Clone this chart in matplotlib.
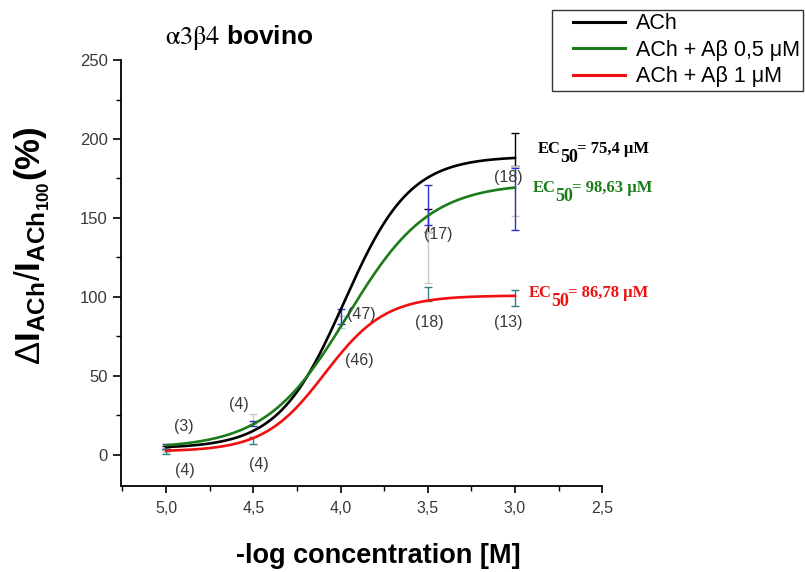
import numpy as np
import matplotlib
matplotlib.use("Agg")
import matplotlib.pyplot as plt
from matplotlib.ticker import MultipleLocator, FuncFormatter
from matplotlib.legend_handler import HandlerLine2D

plt.rcParams["mathtext.fontset"] = "custom"
plt.rcParams["mathtext.rm"] = "Liberation Sans"
plt.rcParams["mathtext.bf"] = "Liberation Sans:bold"
plt.rcParams["mathtext.it"] = "Liberation Sans:italic"

# ---- data ----
x_points = [5.0, 4.5, 4.0, 3.5, 3.0]          # -log [ACh] (M)

# Hill fits: bottom, top, centre (-log M), slope
series_names = ["ACh", "ACh + Aβ 0,5 μM", "ACh + Aβ 1 μM"]
series_colors = ["#000000", "#1c7c1c", "#f01010"]
fit_bottom = [4.0, 4.0, 2.0]
fit_top = [189.0, 172.0, 100.8]
fit_center = [3.98, 3.96, 4.09]
fit_slope = [2.3, 1.85, 2.5]

# error bars (mean, sem) for each group, NaN where none drawn
err_colors = ["#000000", "#c8c8c8", "#3030d0", "#2f8080"]
err_mean = [
    [4.6, np.nan, np.nan, 148.3, 193.5],
    [3.0, 22.5, 84.0, 125.0, 167.0],
    [5.0, 19.5, 87.7, 158.2, 161.9],
    [2.0, 9.0, np.nan, 101.7, 99.2],
]
err_sem = [
    [1.0, np.nan, np.nan, 7.3, 10.5],
    [1.2, 3.0, 4.0, 16.0, 16.0],
    [1.5, 1.5, 4.8, 12.9, 19.8],
    [1.5, 2.2, np.nan, 4.5, 4.8],
]

# number of cells per point
n_labels = ["(3)", "(4)", "(4)", "(4)", "(47)", "(46)", "(17)", "(18)", "(13)", "(18)"]
n_x = [4.90, 4.89, 4.58, 4.47, 3.88, 3.89, 3.44, 3.49, 3.04, 3.04]
n_y = [17.8, -10.0, 32.0, -6.3, 88.8, 59.6, 139.6, 83.7, 83.7, 175.8]

ec50_text = ["75,4", "98,63", "86,78"]
ec50_x = [2.869, 2.898, 2.921]
ec50_y = [190.8, 166.4, 99.8]

x_ticks = [5.0, 4.5, 4.0, 3.5, 3.0, 2.5]
y_ticks = [0, 50, 100, 150, 200, 250]

# ---- figure ----
fig = plt.figure(figsize=(8.05, 5.72), dpi=100)
ax = fig.add_axes([0.150, 0.150, 0.598, 0.745])

for c, m, s in zip(err_colors, err_mean, err_sem):
    ax.errorbar(x_points, m, yerr=s, fmt="none", ecolor=c, elinewidth=1.0,
                capsize=3.2, capthick=1.0, zorder=2)

xs = np.linspace(5.0, 3.0, 300)
handles = []
for name, col, b, t, c, n in zip(series_names, series_colors, fit_bottom,
                                  fit_top, fit_center, fit_slope):
    ys = b + (t - b) / (1 + 10 ** ((xs - c) * n))
    h, = ax.plot(xs, ys, color=col, lw=1.9, label=name, zorder=3)
    handles.append(h)

for t, x, y in zip(n_labels, n_x, n_y):
    ax.text(x, y, t, ha="center", va="center", fontsize=11.5, color="#3a3a3a",
            family="Liberation Sans", zorder=4)

# EC50 labels: "EC", a large lowered "50", then the value on the EC baseline
serif_bold = dict(family="Liberation Serif", fontweight="bold")
for t, x, y, col in zip(ec50_text, ec50_x, ec50_y, series_colors):
    t_ec = ax.text(x, y, "EC", ha="left", va="baseline", fontsize=12,
                   color=col, clip_on=False, **serif_bold)
    t_sub = ax.annotate("50", xy=(1, 0), xycoords=t_ec, xytext=(-0.6, -6.2),
                        textcoords="offset points", ha="left", va="bottom",
                        fontsize=13, color=col, annotation_clip=False,
                        **serif_bold)
    ax.annotate("= " + t + " μM", xy=(1, 0), xycoords=(t_sub, t_ec),
                xytext=(-0.6, 0), textcoords="offset points", ha="left",
                va="bottom", fontsize=12, color=col, annotation_clip=False,
                **serif_bold)

ax.set_xlim(5.26, 2.5)
ax.set_ylim(-20, 250)
ax.spines["top"].set_visible(False)
ax.spines["right"].set_visible(False)
for sp in ("left", "bottom"):
    ax.spines[sp].set_linewidth(1.3)

ax.set_xticks(x_ticks)
ax.set_yticks(y_ticks)
ax.xaxis.set_minor_locator(MultipleLocator(0.25))
ax.yaxis.set_minor_locator(MultipleLocator(25))
ax.xaxis.set_major_formatter(FuncFormatter(lambda v, p: f"{v:.1f}".replace(".", ",")))
ax.yaxis.set_major_formatter(FuncFormatter(lambda v, p: f"{v:.0f}"))
ax.tick_params(which="major", direction="out", length=5, width=1.2,
               labelsize=12, labelcolor="#3a3a3a")
ax.tick_params(axis="x", which="major", pad=6, labelsize=11.5)
ax.tick_params(axis="y", which="major", length=6)
ax.tick_params(which="minor", direction="out", length=3.5, width=1.0)
for lab in ax.get_xticklabels() + ax.get_yticklabels():
    lab.set_family("Liberation Sans")

fig.text(378 / 805, 1 - 563 / 572, "-log concentration [M]", ha="center",
         va="baseline", fontsize=19.5, fontweight="bold", family="Liberation Sans")
fig.text(32 / 805, 1 - 246 / 572,
         r"$\Delta\mathbf{I}_{\mathbf{ACh}}/\mathbf{I}_{\mathbf{ACh}_{\mathbf{100}}}\mathbf{(\%)}$",
         rotation=90, ha="center", va="center", fontsize=25,
         math_fontfamily="custom")

fig.text(239 / 805, 1 - 37.5 / 572, r"$\mathrm{\alpha 3\beta 4}$ bovino",
         ha="center", va="center", fontsize=19, fontweight="bold",
         family="Liberation Sans", math_fontfamily="stix")

legend_fs = 15.5
fs_px = legend_fs * 100 / 72
leg = fig.legend(handles=handles, loc="upper left",
                 bbox_to_anchor=(552 / 805, 1 - 10 / 572), borderaxespad=0,
                 frameon=True, fancybox=False, edgecolor="black",
                 handlelength=70 / fs_px, handletextpad=0.5, borderpad=0.15,
                 labelspacing=0.26, prop={"family": "Liberation Sans", "size": legend_fs},
                 handler_map={h: HandlerLine2D(xpad=18 / fs_px) for h in handles})
leg.get_frame().set_linewidth(1.0)
for line in leg.get_lines():
    line.set_linewidth(2.2)

fig.savefig("out.png", dpi=100)
